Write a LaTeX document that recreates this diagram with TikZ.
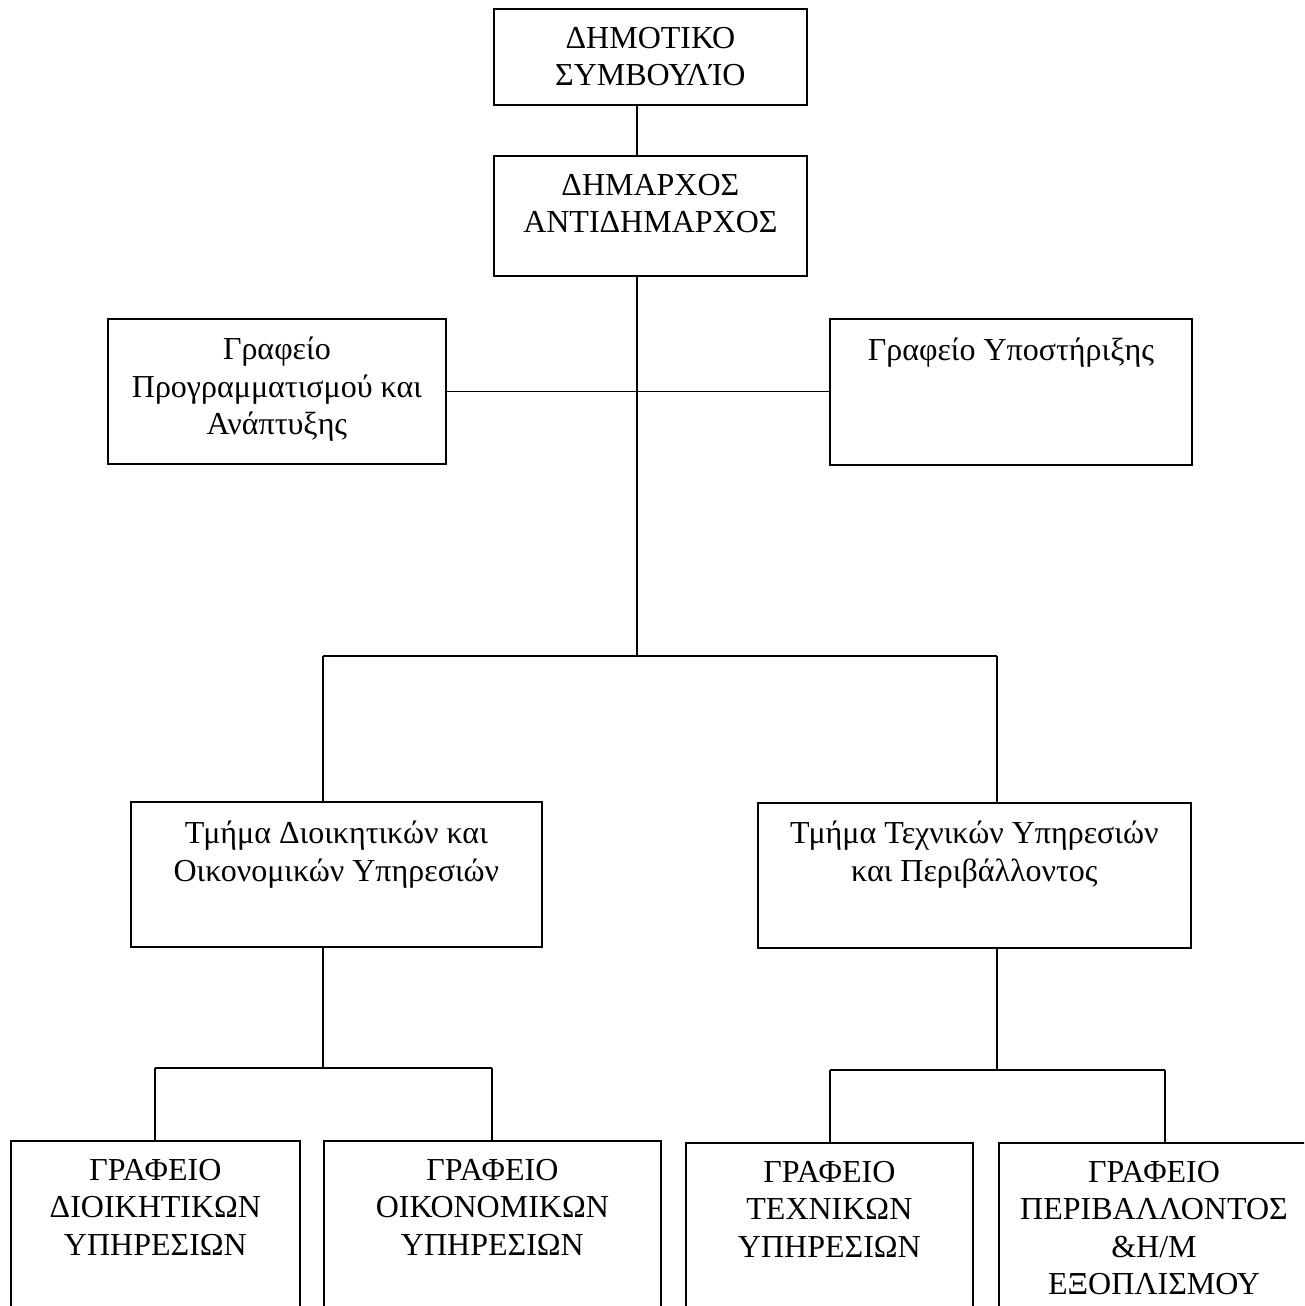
\documentclass[tikz,border=0pt]{standalone}
\usepackage{fontspec}
\setmainfont{Liberation Serif}
\usetikzlibrary{calc}
\begin{document}
\begin{tikzpicture}[x=1pt,y=-1pt,
  box/.style={draw, line width=1.8pt, inner sep=0pt, anchor=north west},
  txt/.style={anchor=north, align=center, inner sep=0pt,
    font=\fontsize{32}{37.5}\selectfont},
  link/.style={line width=1.8pt}]
\useasboundingbox (0,0) rectangle (1304,1306);
\clip (0,0) rectangle (1304,1306);

% boxes
\node[box, minimum width=313pt, minimum height=96pt]  (council) at (493,8) {};
\node[box, minimum width=313pt, minimum height=120pt] (mayor)   at (493,155) {};
\node[box, minimum width=338pt, minimum height=145pt] (plan)    at (107,318) {};
\node[box, minimum width=362pt, minimum height=146pt] (support) at (829,318) {};
\node[box, minimum width=411pt, minimum height=145pt] (admin)   at (130,801) {};
\node[box, minimum width=433pt, minimum height=145pt] (tech)    at (757,802) {};
\node[box, minimum width=289pt, minimum height=220pt] (offA)    at (10,1140) {};
\node[box, minimum width=337pt, minimum height=220pt] (offB)    at (323,1140) {};
\node[box, minimum width=287pt, minimum height=220pt] (offC)    at (685,1142) {};
\node[box, minimum width=312pt, minimum height=220pt] (offD)    at (998,1142) {};

% labels
\node[txt] (council-t) at ($(council.north)+(0,19)$) {ΔΗΜΟΤΙΚΟ\\ΣΥΜΒΟΥΛΊΟ};
\node[txt] (mayor-t)   at ($(mayor.north)+(0,19)$)   {ΔΗΜΑΡΧΟΣ\\ΑΝΤΙΔΗΜΑΡΧΟΣ};
\node[txt] (plan-t)    at ($(plan.north)+(0,19)$)    {Γραφείο\\Προγραμματισμού και\\Ανάπτυξης};
\node[txt] (support-t) at ($(support.north)+(0,20)$) {Γραφείο Υποστήριξης};
\node[txt] (admin-t)   at ($(admin.north)+(0,20)$)   {Τμήμα Διοικητικών και\\Οικονομικών Υπηρεσιών};
\node[txt] (tech-t)    at ($(tech.north)+(0,19)$)    {Τμήμα Τεχνικών Υπηρεσιών\\και Περιβάλλοντος};
\node[txt] (offA-t)    at ($(offA.north)+(0,19)$)    {ΓΡΑΦΕΙΟ\\ΔΙΟΙΚΗΤΙΚΩΝ\\ΥΠΗΡΕΣΙΩΝ};
\node[txt] (offB-t)    at ($(offB.north)+(0,19)$)    {ΓΡΑΦΕΙΟ\\ΟΙΚΟΝΟΜΙΚΩΝ\\ΥΠΗΡΕΣΙΩΝ};
\node[txt] (offC-t)    at ($(offC.north)+(0,19)$)    {ΓΡΑΦΕΙΟ\\ΤΕΧΝΙΚΩΝ\\ΥΠΗΡΕΣΙΩΝ};
\node[txt] (offD-t)    at (1154,1161)                {ΓΡΑΦΕΙΟ\\ΠΕΡΙΒΑΛΛΟΝΤΟΣ\\\&Η/Μ\\ΕΞΟΠΛΙΣΜΟΥ};

% junction points of the tree
\coordinate (trunk) at (637,656);
\coordinate (busL)  at (323,656);
\coordinate (busR)  at (997,656);
\coordinate (subL)  at (323,1068);
\coordinate (subLa) at (155,1068);
\coordinate (subLb) at (492,1068);
\coordinate (subR)  at (997,1070);
\coordinate (subRa) at (830,1070);
\coordinate (subRb) at (1165,1070);

% connectors
\draw[link] (council.south -| trunk) -- (mayor.north -| trunk);
\draw[link] (mayor.south -| trunk) -- (trunk);
\draw[link] (plan.east) -- (plan.east -| support.west);
\draw[link] (busL) -- (busR);
\draw[link] (busL) -- (admin.north -| busL);
\draw[link] (busR) -- (tech.north -| busR);
\draw[link] (admin.south -| subL) -- (subL);
\draw[link] (subLa) -- (subLb);
\draw[link] (subLa) -- (offA.north -| subLa);
\draw[link] (subLb) -- (offB.north -| subLb);
\draw[link] (tech.south -| subR) -- (subR);
\draw[link] (subRa) -- (subRb);
\draw[link] (subRa) -- (offC.north -| subRa);
\draw[link] (subRb) -- (offD.north -| subRb);
\end{tikzpicture}
\end{document}
